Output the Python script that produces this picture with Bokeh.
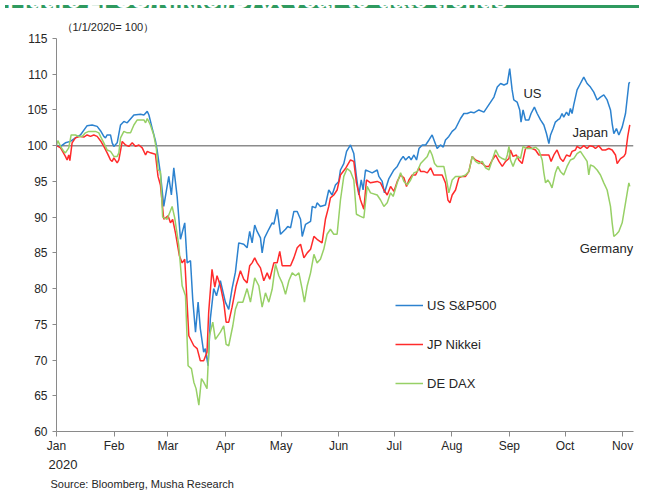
import pandas as pd
from bokeh.plotting import figure
from bokeh.models import (Range1d, FixedTicker, DatetimeTickFormatter, Span, Label, Title,
                          Legend, LegendItem, Div, ColumnDataSource)
from bokeh.layouts import column
from bokeh.embed import file_html
from bokeh.resources import INLINE

# ---------------- data (days since 1/1/2020, index 1/1/2020 = 100) ----------------
month_labels = ["Jan", "Feb", "Mar", "Apr", "May", "Jun", "Jul", "Aug", "Sep", "Oct", "Nov"]
y_ticks = [60, 65, 70, 75, 80, 85, 90, 95, 100, 105, 110, 115]
base_level = 100
series_names = ["US S&P500", "JP Nikkei", "DE DAX"]

us_days = [0.0, 2.2, 4.8, 7.5, 10.2, 12.9, 16.5, 19.2, 21.9, 23.7, 25.5, 26.4, 27.3, 29.1, 30.0, 30.9, 32.7, 34.5, 36.3, 38.1,
           41.7, 45.3, 47.1, 48.9, 49.8, 51.5, 53.3, 54.2, 56.0, 57.8, 60.5, 61.9, 63.2, 65.0, 66.8, 69.1, 70.4, 72.2, 73.4, 74.9,
           76.3, 77.5, 79.3, 80.2, 81.7, 82.9, 84.7, 86.2, 88.3, 91.0, 92.8, 94.6, 96.4, 98.2, 100.9, 102.7, 104.1, 105.4, 106.8, 108.1,
           109.9, 110.8, 112.1, 114.4, 116.2, 117.1, 118.9, 120.7, 123.4, 124.6, 126.1, 127.9, 129.7, 131.5, 132.4, 134.2, 136.9, 137.8, 139.6, 140.4,
           142.2, 144.9, 146.7, 148.5, 150.3, 152.1, 153.0, 154.8, 156.3, 158.4, 160.2, 161.6, 162.9, 164.2, 165.2, 166.5, 168.3, 170.1, 172.8, 173.7,
           175.5, 176.7, 179.1, 181.8, 183.6, 185.4, 186.8, 188.1, 189.9, 191.1, 192.6, 194.0, 195.3, 197.1, 198.9, 200.7, 202.4, 203.7, 205.1, 206.9,
           208.4, 209.6, 211.4, 213.2, 215.0, 217.7, 219.5, 221.3, 223.1, 224.9, 227.6, 230.3, 232.1, 233.9, 235.7, 237.5, 239.3, 241.1, 242.9, 244.2,
           245.5, 246.4, 248.2, 249.6, 250.3, 251.4, 252.7, 254.5, 255.7, 257.5, 259.0, 260.8, 262.6, 264.0, 265.3, 266.2, 267.6, 268.8, 270.1, 271.2,
           272.4, 273.3, 274.8, 276.0, 276.9, 277.8, 278.7, 280.5, 282.3, 284.1, 285.9, 287.7, 289.5, 291.3, 293.1, 294.9, 296.7, 298.5, 299.4, 300.3,
           301.7, 303.0, 304.8, 306.6, 308.4, 308.9]
us_vals = [100.0, 99.9, 100.4, 100.6, 101.1, 101.5, 102.8, 102.9, 102.7, 102.1, 101.3, 101.1, 101.5, 101.5, 100.4, 99.9, 100.4, 102.9, 103.4, 103.2,
           104.3, 104.4, 104.3, 104.8, 104.3, 102.5, 100.7, 99.4, 96.1, 91.5, 95.7, 93.1, 96.9, 92.9, 86.9, 89.2, 83.6, 83.9, 78.5, 73.9,
           78.1, 74.4, 71.1, 71.6, 69.2, 75.8, 80.0, 79.0, 81.1, 78.1, 77.1, 80.0, 82.3, 86.4, 86.2, 85.7, 88.0, 86.4, 88.9, 88.0,
           87.1, 85.0, 87.1, 88.3, 89.2, 89.0, 91.1, 87.6, 88.3, 88.7, 88.5, 90.8, 90.8, 89.7, 87.3, 89.0, 89.4, 91.5, 91.3, 92.0,
           91.5, 91.7, 93.8, 93.1, 94.5, 95.0, 96.6, 97.5, 99.2, 100.1, 98.9, 95.7, 93.1, 95.2, 93.8, 96.6, 96.4, 96.2, 96.6, 95.7,
           95.0, 93.4, 95.4, 96.6, 97.1, 98.0, 98.5, 98.0, 98.5, 98.0, 98.7, 98.0, 99.6, 100.1, 100.1, 100.8, 101.5, 100.6, 99.6, 100.1,
           99.8, 100.8, 101.3, 102.0, 102.4, 103.8, 104.5, 104.5, 104.7, 104.6, 105.0, 104.7, 105.4, 106.1, 106.8, 108.2, 108.7, 108.5, 108.7, 110.8,
           107.8, 106.4, 106.1, 105.0, 103.3, 105.0, 103.6, 103.6, 104.5, 105.4, 104.5, 103.6, 102.9, 101.7, 100.3, 101.5, 102.4, 103.3, 103.6, 103.8,
           104.5, 104.0, 104.7, 104.2, 105.2, 104.5, 105.7, 107.8, 108.7, 109.6, 108.7, 108.2, 107.5, 106.4, 106.8, 107.1, 106.4, 105.0, 103.1, 101.7,
           102.4, 101.5, 102.6, 104.5, 108.7, 108.9]

jp_days = [0.0, 2.2, 4.8, 5.7, 6.6, 7.2, 8.4, 10.2, 12.9, 14.7, 16.5, 18.3, 20.1, 21.9, 23.7, 25.5, 27.3, 28.2, 29.1, 30.0,
           30.9, 32.7, 33.6, 35.4, 37.2, 39.0, 40.8, 42.6, 44.4, 46.2, 48.0, 48.9, 50.6, 53.3, 54.7, 56.0, 57.8, 60.1, 61.4, 62.6,
           64.1, 66.2, 67.7, 69.1, 71.3, 74.0, 75.8, 77.5, 79.3, 81.1, 82.0, 83.8, 85.3, 86.5, 88.3, 90.1, 91.4, 92.8, 94.6, 96.8,
           99.1, 100.9, 102.7, 104.1, 105.4, 106.8, 108.1, 109.9, 111.7, 113.5, 114.9, 117.1, 118.9, 120.3, 121.6, 126.1, 127.9, 129.7, 131.5, 133.3,
           135.1, 136.9, 138.7, 140.4, 143.1, 144.9, 146.7, 147.6, 149.4, 151.2, 153.0, 155.7, 158.4, 160.2, 161.6, 163.8, 165.6, 167.0, 169.2, 172.8,
           174.6, 176.4, 178.2, 180.0, 181.8, 183.6, 185.4, 187.2, 188.6, 189.9, 191.7, 193.5, 195.3, 196.2, 198.0, 199.8, 201.6, 203.3, 206.0, 207.8,
           209.6, 210.9, 212.0, 213.2, 215.0, 216.8, 218.6, 220.4, 222.2, 224.0, 225.8, 227.6, 229.4, 231.2, 233.0, 234.8, 236.6, 238.4, 240.2, 242.0,
           243.8, 244.6, 246.0, 247.8, 249.1, 250.9, 252.7, 254.5, 256.3, 258.1, 259.9, 261.7, 263.5, 265.3, 266.5, 268.0, 269.7, 271.5, 273.0, 274.8,
           276.6, 277.8, 279.6, 280.5, 282.3, 284.1, 285.9, 287.3, 289.1, 290.4, 292.2, 294.0, 295.8, 297.6, 299.4, 301.2, 302.1, 303.9, 305.7, 306.6,
           307.8, 308.9]
jp_vals = [100.0, 99.7, 98.5, 98.0, 98.7, 97.9, 100.4, 101.1, 101.3, 101.2, 101.5, 101.3, 101.5, 101.3, 100.7, 99.9, 99.0, 98.5, 98.0, 97.8,
           98.3, 97.6, 98.0, 100.6, 100.1, 99.9, 100.4, 99.9, 100.1, 99.7, 98.7, 99.2, 99.0, 98.8, 95.7, 94.5, 89.7, 90.2, 89.2, 89.7,
           87.8, 84.6, 83.6, 84.1, 73.4, 72.0, 71.6, 69.9, 69.9, 71.1, 76.7, 82.7, 80.2, 81.8, 80.4, 78.1, 75.3, 75.3, 77.4, 80.4,
           82.5, 81.3, 80.8, 83.2, 83.6, 84.3, 83.6, 82.9, 81.1, 82.2, 81.3, 83.6, 83.6, 85.2, 83.2, 83.2, 84.3, 85.7, 86.2, 84.3,
           85.0, 85.5, 87.3, 86.9, 86.4, 89.7, 91.5, 92.7, 93.1, 93.8, 95.9, 96.8, 98.0, 97.8, 94.8, 92.4, 91.1, 95.2, 94.8, 95.0,
           94.8, 93.8, 93.1, 94.3, 93.6, 95.0, 95.9, 95.5, 94.3, 95.2, 95.9, 95.9, 96.9, 96.4, 96.4, 96.2, 96.9, 95.9, 95.9, 95.9,
           94.8, 92.4, 92.0, 93.1, 93.8, 95.5, 95.7, 95.7, 96.4, 98.5, 98.0, 97.8, 97.5, 97.1, 97.1, 98.0, 98.7, 97.8, 97.1, 97.8,
           98.2, 99.4, 98.5, 98.7, 98.0, 97.5, 99.6, 99.9, 99.6, 99.4, 98.7, 98.7, 98.7, 98.7, 97.8, 98.7, 99.4, 98.2, 97.8, 98.7,
           98.5, 99.2, 99.4, 99.9, 99.6, 100.0, 99.6, 100.0, 99.9, 99.6, 100.0, 99.4, 99.4, 99.6, 99.4, 98.7, 97.5, 98.2, 98.5, 98.9,
           101.3, 102.9]

de_days = [0.0, 0.7, 2.2, 3.9, 4.8, 6.6, 7.9, 10.2, 12.0, 13.8, 15.6, 17.4, 19.2, 21.0, 22.8, 23.7, 25.5, 27.3, 29.1, 30.9,
           32.7, 33.6, 34.5, 36.3, 38.1, 39.9, 41.7, 43.5, 45.3, 47.1, 48.0, 48.9, 50.6, 52.4, 53.8, 54.7, 56.0, 57.2, 59.6, 62.3,
           63.7, 65.9, 67.7, 69.5, 70.9, 72.7, 74.0, 75.2, 76.7, 78.1, 79.3, 81.1, 82.4, 84.2, 85.6, 88.3, 90.1, 91.4, 92.8, 95.0,
           96.4, 97.8, 100.4, 102.7, 104.5, 106.8, 109.0, 110.8, 112.6, 114.4, 116.2, 118.0, 119.8, 121.6, 123.4, 125.2, 127.0, 128.8, 130.6, 132.4,
           133.6, 135.1, 136.9, 138.7, 140.4, 142.2, 144.0, 145.8, 147.6, 149.4, 151.2, 153.0, 154.8, 156.6, 158.4, 160.2, 161.6, 163.8, 165.6, 167.4,
           169.2, 172.8, 174.6, 176.4, 178.2, 180.0, 181.4, 183.6, 185.4, 187.2, 189.0, 190.8, 192.6, 194.4, 196.2, 198.0, 199.8, 201.2, 202.4, 203.7,
           205.1, 208.7, 210.2, 211.4, 213.2, 215.0, 216.8, 218.6, 220.4, 222.2, 224.0, 225.8, 227.6, 229.4, 231.2, 233.0, 234.8, 236.6, 238.4, 240.2,
           242.0, 242.9, 243.8, 244.6, 246.0, 247.3, 248.6, 250.0, 251.4, 253.2, 254.5, 256.3, 258.1, 259.9, 261.7, 262.6, 263.5, 264.7, 265.8, 267.0,
           268.8, 270.1, 271.5, 273.3, 275.1, 276.9, 278.7, 280.5, 282.3, 284.1, 285.9, 286.8, 287.7, 289.5, 291.3, 293.1, 294.9, 296.7, 298.5, 299.4,
           300.3, 301.7, 303.0, 304.8, 306.6, 308.4, 308.9]
de_vals = [100.0, 100.7, 99.9, 99.2, 99.0, 99.7, 101.5, 101.5, 101.3, 101.3, 101.8, 102.0, 102.0, 102.0, 101.8, 101.3, 100.4, 99.4, 99.2, 98.5,
           98.5, 99.0, 101.1, 102.0, 101.8, 101.8, 102.9, 103.6, 103.6, 103.6, 103.2, 103.8, 102.9, 101.5, 99.6, 96.6, 96.4, 90.0, 89.7, 91.5,
           89.9, 86.0, 80.4, 79.0, 69.2, 68.8, 66.9, 66.0, 63.7, 67.4, 66.9, 66.0, 73.4, 75.3, 72.9, 73.9, 74.8, 72.2, 72.0, 74.8,
           77.1, 78.1, 78.1, 80.0, 78.1, 81.5, 80.4, 77.4, 79.4, 78.1, 79.9, 83.4, 81.8, 80.8, 79.2, 81.1, 82.2, 81.8, 82.2, 79.9,
           78.1, 80.4, 82.2, 84.8, 83.6, 84.1, 85.5, 87.6, 88.3, 87.6, 87.6, 92.4, 95.7, 96.8, 96.4, 95.2, 90.4, 90.1, 89.9, 94.3,
           93.4, 93.1, 92.4, 91.5, 92.0, 93.4, 92.9, 94.8, 96.2, 95.0, 94.5, 95.2, 96.2, 96.4, 97.5, 98.0, 98.5, 99.4, 98.7, 97.5,
           97.1, 97.1, 95.2, 93.4, 95.2, 95.7, 95.7, 95.7, 95.9, 96.4, 98.5, 97.8, 97.5, 97.8, 96.9, 96.6, 98.0, 99.4, 98.5, 98.2,
           98.0, 98.7, 99.9, 98.0, 97.1, 98.0, 98.5, 98.2, 99.9, 99.6, 99.6, 99.6, 99.8, 99.4, 98.0, 96.2, 94.8, 95.2, 94.8, 94.1,
           96.2, 97.1, 96.4, 95.9, 97.1, 98.0, 98.2, 98.9, 99.2, 98.5, 97.8, 95.9, 97.3, 97.1, 96.6, 95.9, 94.8, 93.8, 91.5, 89.2,
           87.3, 87.6, 88.0, 89.2, 92.0, 94.8, 94.3]

# ---------------- helpers ----------------
BASE = pd.Timestamp("2020-01-01")
EPOCH = pd.Timestamp("1970-01-01")


def to_dt(days):
    return BASE + pd.to_timedelta(days, unit="D")


def to_ms(day):
    return float((BASE + pd.Timedelta(days=day) - EPOCH) / pd.Timedelta(milliseconds=1))


FONT = "Liberation Sans"
TXT = "#262626"
AX = "#8a8a8a"
colors = ["#2c82cf", "#ff2b2b", "#97d066"]

month_starts = pd.date_range("2020-01-01", periods=len(month_labels), freq="MS")
month_ms = [int((m - EPOCH) / pd.Timedelta(milliseconds=1)) for m in month_starts]

p = figure(width=634, height=482, x_axis_type="datetime",
           x_range=Range1d(to_ms(0), to_ms(310.9)), y_range=Range1d(60, 115),
           output_backend="svg", toolbar_location=None,
           min_border_left=56, min_border_right=1, min_border_top=24, min_border_bottom=64)
p.outline_line_color = None
p.xgrid.visible = False
p.ygrid.visible = False
p.background_fill_color = "white"
p.border_fill_color = "white"

# axes
xa = p.xaxis[0]
xa.ticker = FixedTicker(ticks=month_ms)
xa.formatter = DatetimeTickFormatter(milliseconds="%b", seconds="%b", minsec="%b", minutes="%b",
                                     hourmin="%b", hours="%b", days="%b", months="%b", years="%b")
xa.major_label_overrides = {ms: lab for ms, lab in zip(month_ms, month_labels)}
xa.minor_tick_line_color = None
xa.major_tick_in = 0
xa.major_tick_out = 5
xa.axis_line_color = AX
xa.major_tick_line_color = AX
xa.major_label_standoff = 2
xa.major_label_text_font = FONT
xa.major_label_text_font_size = "12px"
xa.major_label_text_color = TXT

ya = p.yaxis[0]
ya.ticker = FixedTicker(ticks=y_ticks)
ya.minor_tick_line_color = None
ya.major_tick_in = 0
ya.major_tick_out = 4
ya.axis_line_color = AX
ya.major_tick_line_color = AX
ya.major_label_standoff = 5
ya.major_label_text_font = FONT
ya.major_label_text_font_size = "12px"
ya.major_label_text_color = TXT

# base line at 100
p.add_layout(Span(location=base_level, dimension="width", line_color="#8c8c8c",
                  line_width=1.5, level="underlay"))

renderers = []
for days, vals, col in [(us_days, us_vals, colors[0]), (jp_days, jp_vals, colors[1]), (de_days, de_vals, colors[2])]:
    src = ColumnDataSource(dict(x=to_dt(days), y=vals))
    r = p.line("x", "y", source=src, line_color=col, line_width=1.5)
    renderers.append(r)

legend = Legend(items=[LegendItem(label=n, renderers=[r]) for n, r in zip(series_names, renderers)],
                location=(339, 38), orientation="vertical", glyph_width=28, glyph_height=20,
                label_height=20, spacing=19, padding=0, margin=0, label_standoff=4,
                border_line_color=None, background_fill_alpha=0,
                label_text_font=FONT, label_text_font_size="13px", label_text_color=TXT)
p.add_layout(legend)

# series annotations (inside the plot frame)
p.add_layout(Label(x=to_ms(251.6), y=107.3, text="US", text_align="left", text_baseline="middle",
                   text_font=FONT, text_font_size="13px", text_color=TXT))
p.add_layout(Label(x=to_ms(278.0), y=101.9, text="Japan", text_align="left", text_baseline="middle",
                   text_font=FONT, text_font_size="13px", text_color=TXT))
p.add_layout(Label(x=to_ms(310.7), y=85.6, text="Germany", text_align="right", text_baseline="middle",
                   text_font=FONT, text_font_size="13px", text_color=TXT))

# texts outside the frame as titles
p.add_layout(Title(text="（1/1/2020= 100）", align="left", offset=5, standoff=11,
                   text_font=FONT, text_font_size="11px", text_font_style="normal",
                   text_color=TXT), "above")
p.add_layout(Title(text="2020", align="left", offset=-8, standoff=4,
                   text_font=FONT, text_font_size="13px", text_font_style="normal",
                   text_color=TXT), "below")
p.add_layout(Title(text="Source: Bloomberg, Musha Research", align="left", offset=-6, standoff=11,
                   text_font=FONT, text_font_size="11px", text_font_style="normal",
                   text_color=TXT), "below")

band = Div(text="<div style='position:relative;top:-19px;white-space:nowrap;padding-left:2px;"
                "color:#ffffff;font-family:\"Liberation Sans\";font-weight:bold;font-size:24px;"
                "line-height:28px;'>Figure 2: US/Nikkei/DAX year-to-date trends</div>",
           width=634, height=3,
           styles={"background-color": "#2f9a5f", "overflow": "hidden"})

layout = column(band, p, spacing=0)
open("out.html", "w").write(file_html(layout, INLINE))
